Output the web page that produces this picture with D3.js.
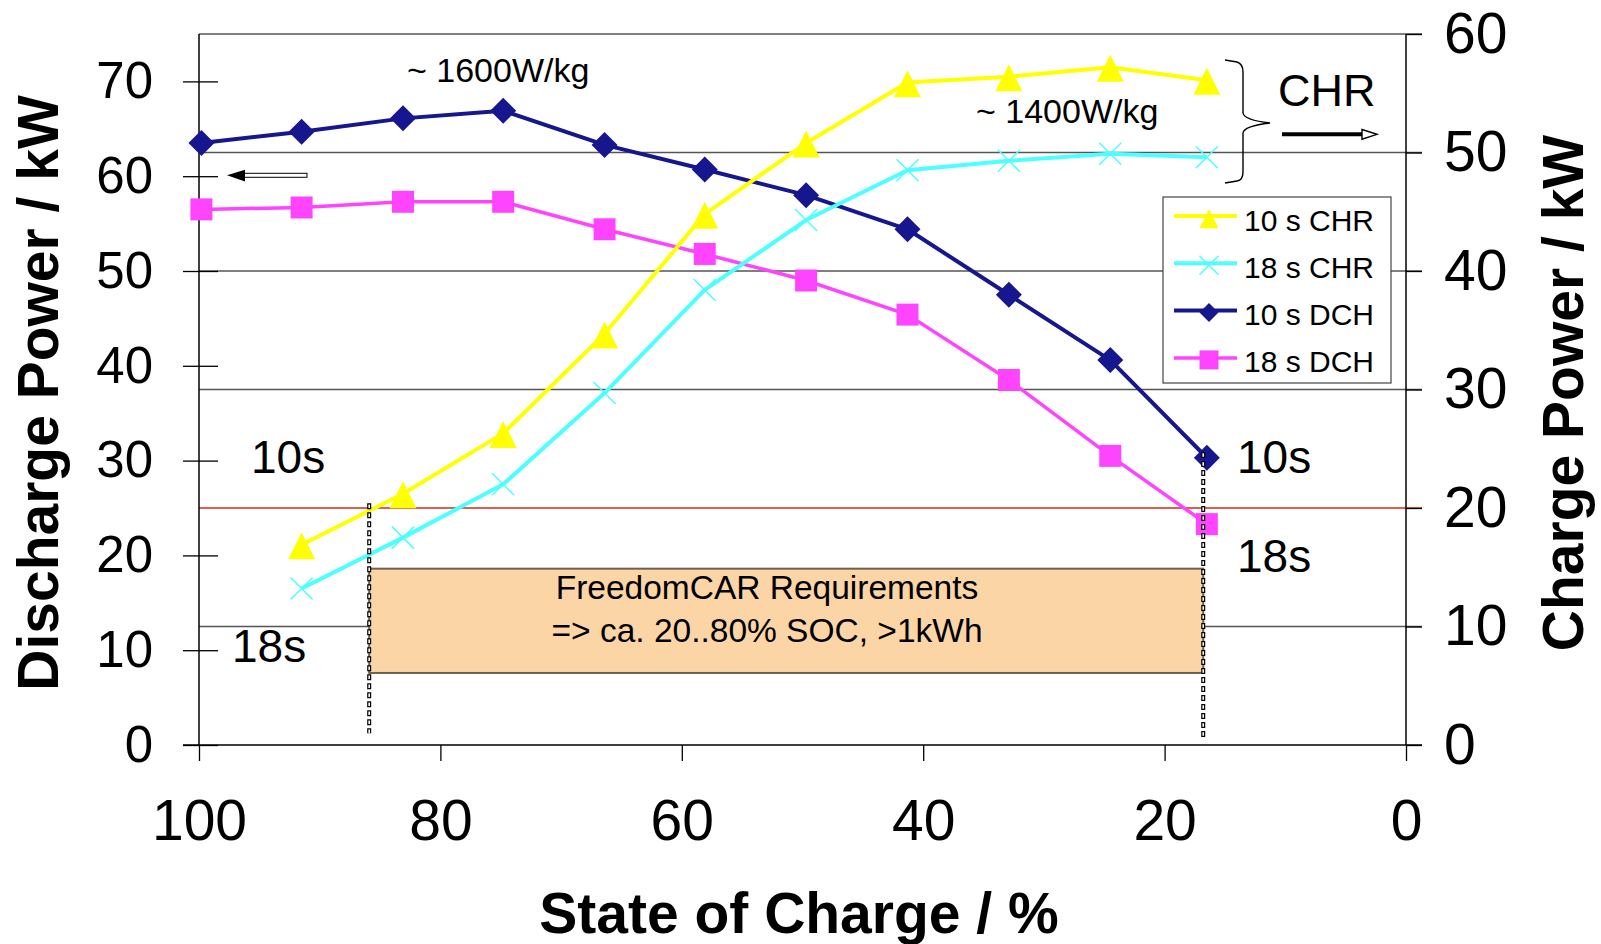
<!DOCTYPE html>
<html><head><meta charset="utf-8">
<script src="https://cdn.jsdelivr.net/npm/d3@7"></script>
<style>body{margin:0;background:#fff} svg{display:block} text{font-family:"Liberation Sans",Arial,sans-serif;fill:#000}</style>
</head><body>
<svg id="c" width="1601" height="944"></svg>
<script>
// ---- data ----
const soc     = [99.8, 91.5, 83.1, 74.8, 66.4, 58.1, 49.7, 41.3, 32.9, 24.5, 16.5];
const dch10   = [63.5, 64.7, 66.1, 66.9, 63.3, 60.7, 58.0, 54.4, 47.5, 40.6, 30.3];
const dch18   = [56.5, 56.7, 57.3, 57.3, 54.4, 51.8, 49.0, 45.4, 38.5, 30.5, 23.3];
const socChr  = [91.5, 83.1, 74.8, 66.4, 58.1, 49.7, 41.3, 32.9, 24.5, 16.5];
const chr10   = [16.9, 21.2, 26.3, 34.7, 44.8, 50.8, 55.9, 56.4, 57.2, 56.1];
const chr18   = [13.2, 17.5, 22.0, 29.7, 38.4, 44.3, 48.5, 49.3, 49.9, 49.6];
const xTicks     = [100, 80, 60, 40, 20, 0];
const leftTicks  = [0, 10, 20, 30, 40, 50, 60, 70];
const rightTicks = [0, 10, 20, 30, 40, 50, 60];
const gridVals   = [10, 30, 40, 50, 60];
const reqCharge  = 20;              // kW charge requirement (red line)
const reqSoc     = [85.9, 16.8];    // requirement window (SOC)
const reqBoxDch  = [7.6, 18.6];     // box extent on discharge axis
const seriesNames = ["10 s CHR", "18 s CHR", "10 s DCH", "18 s DCH"];

// ---- layout ----
const svg = d3.select("#c");
const X0 = 199, X1 = 1406, Y0 = 745, Y1 = 34;
const x  = d3.scaleLinear().domain([100, 0]).range([X0, X1]);
const yL = d3.scaleLinear().domain([0, 75]).range([Y0, Y1]);
const yR = d3.scaleLinear().domain([0, 60]).range([Y0, Y1]);

const C = {chr10:"#FFFF00", chr18:"#4DFFFF", dch10:"#16168E", dch18:"#FF44FF"};

// gridlines (right axis)
svg.append("g").selectAll("line").data(gridVals).join("line")
  .attr("x1", X0).attr("x2", X1 + 16)
  .attr("y1", d => yR(d)).attr("y2", d => yR(d))
  .attr("stroke", "#555").attr("stroke-width", 1.3);
svg.append("line").attr("x1", X0).attr("x2", X1 + 16)
  .attr("y1", yR(reqCharge)).attr("y2", yR(reqCharge))
  .attr("stroke", "#d42a14").attr("stroke-width", 1.5);

// axes
function styleAxis(g, fs){
  g.select(".domain").remove();
  g.selectAll(".tick line").attr("stroke", "#000").attr("stroke-width", 1.3);
  g.selectAll(".tick text").style("font-size", fs + "px").attr("fill", "#000");
}
const gl = svg.append("g").attr("transform", `translate(${X0},0)`)
  .call(d3.axisLeft(yL).tickValues(leftTicks).tickSize(16).tickPadding(30).tickFormat(d3.format("d")));
styleAxis(gl, 51);
const gl2 = svg.append("g").attr("transform", `translate(${X0},0)`)
  .call(d3.axisLeft(yL).tickValues(leftTicks).tickSize(-19).tickFormat(""));
styleAxis(gl2, 10);
const gr = svg.append("g").attr("transform", `translate(${X1},0)`)
  .call(d3.axisRight(yR).tickValues(rightTicks).tickSize(16).tickPadding(22).tickFormat(d3.format("d")));
styleAxis(gr, 57);
const gb = svg.append("g").attr("transform", `translate(0,${Y0})`)
  .call(d3.axisBottom(x).tickValues(xTicks).tickSize(16).tickPadding(39).tickFormat(d3.format("d")));
styleAxis(gb, 57);

// frame lines
svg.append("line").attr("x1", X0).attr("x2", X0).attr("y1", Y1).attr("y2", Y0).attr("stroke", "#000").attr("stroke-width", 1.5);
svg.append("line").attr("x1", X1).attr("x2", X1).attr("y1", Y1).attr("y2", Y0).attr("stroke", "#000").attr("stroke-width", 1.5);
svg.append("line").attr("x1", X0 - 16).attr("x2", X1 + 16).attr("y1", Y0).attr("y2", Y0).attr("stroke", "#000").attr("stroke-width", 1.5);

// axis titles
svg.append("text").attr("transform", `translate(58,393) rotate(-90)`).attr("text-anchor", "middle")
  .style("font-size", "57px").style("font-weight", "bold").text("Discharge Power / kW");
svg.append("text").attr("transform", `translate(1583,393) rotate(-90)`).attr("text-anchor", "middle")
  .style("font-size", "57px").style("font-weight", "bold").text("Charge Power / kW");
svg.append("text").attr("x", 799).attr("y", 933).attr("text-anchor", "middle")
  .style("font-size", "57px").style("font-weight", "bold").text("State of Charge / %");

// markers
const sym = {
  tri:  s => `M0,${-s*0.46}L${s*0.5},${s*0.54}L${-s*0.5},${s*0.54}Z`,
  dia:  s => `M0,${-s/2}L${s/2},0L0,${s/2}L${-s/2},0Z`,
  sq:   s => `M${-s/2},${-s/2}h${s}v${s}h${-s}Z`,
  x:    s => `M${-s/2},${-s/2}L${s/2},${s/2}M${s/2},${-s/2}L${-s/2},${s/2}`
};
const series = [
  {xs: socChr, ys: chr10, y: yR, color: C.chr10, w: 4, m: "tri", ms: 27},
  {xs: socChr, ys: chr18, y: yR, color: C.chr18, w: 4, m: "x",   ms: 22},
  {xs: soc,    ys: dch10, y: yL, color: C.dch10, w: 4, m: "dia", ms: 26},
  {xs: soc,    ys: dch18, y: yL, color: C.dch18, w: 3.5, m: "sq", ms: 22}
];
function drawMarker(g, m, s, color){
  const p = g.append("path").attr("d", sym[m](s));
  if (m === "x") p.attr("fill", "none").attr("stroke", color).attr("stroke-width", 1.5);
  else p.attr("fill", color);
}
// draw DCH first, CHR (secondary axis) afterwards
[2, 3, 0, 1].forEach(i => {
  const s = series[i];
  const pts = s.xs.map((v, j) => [x(v), s.y(s.ys[j])]);
  svg.append("path").attr("d", d3.line()(pts)).attr("fill", "none")
    .attr("stroke", s.color).attr("stroke-width", s.w).attr("stroke-linejoin", "round");
  pts.forEach(p => drawMarker(svg.append("g").attr("transform", `translate(${p[0]},${p[1]})`), s.m, s.ms, s.color));
});

// legend
const lg = svg.append("g");
lg.append("rect").attr("x", 1163).attr("y", 197).attr("width", 228).attr("height", 186)
  .attr("fill", "#fff").attr("stroke", "#444").attr("stroke-width", 1.2);
series.forEach((s, i) => {
  const ly = 216 + i * 47.3;
  lg.append("line").attr("x1", 1174).attr("x2", 1237).attr("y1", ly).attr("y2", ly)
    .attr("stroke", s.color).attr("stroke-width", s.w);
  drawMarker(lg.append("g").attr("transform", `translate(1209,${ly + 2})`), s.m, 19, s.color);
  lg.append("text").attr("x", 1244).attr("y", ly + 14.5).style("font-size", "30px").text(seriesNames[i]);
});

// requirement box
svg.append("rect").attr("x", x(reqSoc[0])).attr("y", yL(reqBoxDch[1]))
  .attr("width", x(reqSoc[1]) - x(reqSoc[0])).attr("height", yL(reqBoxDch[0]) - yL(reqBoxDch[1]))
  .attr("fill", "#FBD5A5").attr("stroke", "#6e6050").attr("stroke-width", 2);
svg.append("text").attr("x", 767).attr("y", 599).attr("text-anchor", "middle").style("font-size", "33.5px").text("FreedomCAR Requirements");
svg.append("text").attr("x", 767).attr("y", 642).attr("text-anchor", "middle").style("font-size", "33.5px").text("=> ca. 20..80% SOC, >1kWh");

// dashed vertical markers
function dashed(xp, ya, yb){
  svg.append("line").attr("x1", xp).attr("x2", xp).attr("y1", ya).attr("y2", yb)
    .attr("stroke", "#000").attr("stroke-width", 4).attr("stroke-dasharray", "6,3");
  svg.append("line").attr("x1", xp).attr("x2", xp).attr("y1", ya + 1.2).attr("y2", yb)
    .attr("stroke", "#fff").attr("stroke-width", 1.6).attr("stroke-dasharray", "3.6,5.4");
}
dashed(x(reqSoc[0]), yR(20.4), yR(1.0));
dashed(x(reqSoc[1]), yL(30.9), yL(0.8));

// annotations
const ann = [
  {t: "~ 1600W/kg", x: 407, y: 82, fs: 34},
  {t: "~ 1400W/kg", x: 976, y: 123, fs: 34},
  {t: "CHR", x: 1278, y: 106, fs: 45},
  {t: "10s", x: 251, y: 473, fs: 46},
  {t: "18s", x: 232, y: 662, fs: 46},
  {t: "10s", x: 1237, y: 473, fs: 46},
  {t: "18s", x: 1237, y: 572, fs: 46}
];
ann.forEach(a => svg.append("text").attr("x", a.x).attr("y", a.y).style("font-size", a.fs + "px").text(a.t));

// brace
svg.append("path").attr("d", "M1225,60 L1237,62 Q1243,64 1243,72 L1243,113 Q1244,120 1270,123 Q1244,126 1243,133 L1243,172 Q1243,180 1237,181 L1225,183")
  .attr("fill", "none").attr("stroke", "#000").attr("stroke-width", 1.4);
// CHR arrow (right)
svg.append("line").attr("x1", 1282).attr("x2", 1364).attr("y1", 134.3).attr("y2", 134.3).attr("stroke", "#000").attr("stroke-width", 4);
svg.append("path").attr("d", "M1362,129.5 L1377,134.3 L1362,139.2 Z").attr("fill", "#fff").attr("stroke", "#000").attr("stroke-width", 1.4);
// DCH arrow (left)
svg.append("rect").attr("x", 243).attr("y", 173.3).attr("width", 64).attr("height", 4).attr("fill", "#fff").attr("stroke", "#000").attr("stroke-width", 1);
svg.append("path").attr("d", "M227,175.3 L245,169.8 L245,181.5 Z").attr("fill", "#000");
</script>
</body></html>
